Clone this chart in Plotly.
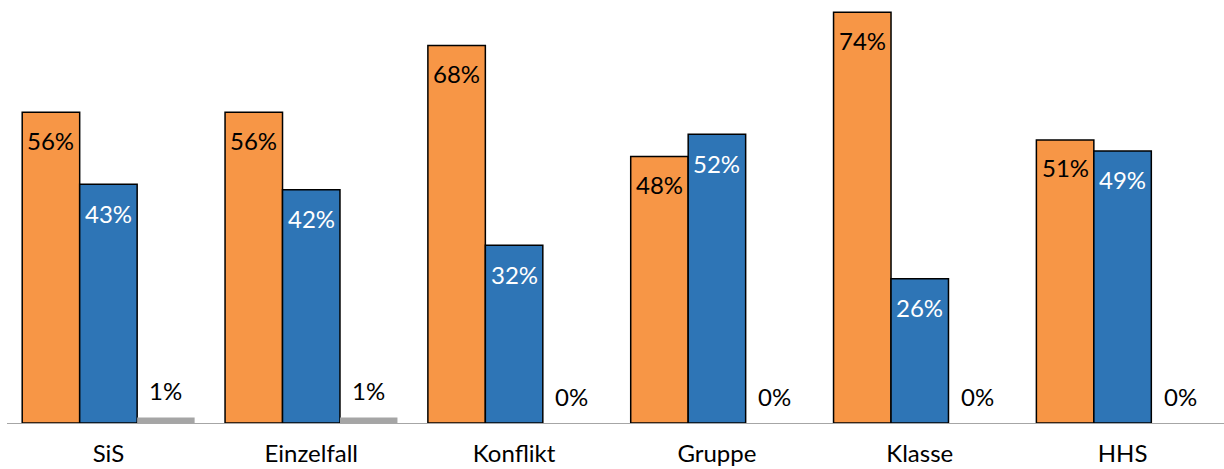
import plotly.graph_objects as go

categories = ["SiS", "Einzelfall", "Konflikt", "Gruppe", "Klasse", "HHS"]
orange_vals = [56, 56, 68, 48, 74, 51]
blue_vals = [43, 42, 32, 52, 26, 49]
gray_vals = [1, 1, 0, 0, 0, 0]

ORANGE = "#F79646"
BLUE = "#2E75B6"
GRAY = "#A5A5A5"
FONT = "Lato"
FS = 24

fig = go.Figure()
fig.add_trace(go.Bar(x=categories, y=orange_vals, marker=dict(color=ORANGE, line=dict(color="black", width=1.5)), name="A"))
fig.add_trace(go.Bar(x=categories, y=blue_vals, marker=dict(color=BLUE, line=dict(color="black", width=1.5)), name="B"))
fig.add_trace(go.Bar(x=categories, y=gray_vals, marker=dict(color=GRAY, line=dict(width=0)), name="C"))

bw = 0.85 / 3
annotations = []
for i, c in enumerate(categories):
    annotations.append(dict(x=i - bw, y=orange_vals[i], xref="x", yref="y", text=f"{orange_vals[i]}%",
                            showarrow=False, yshift=-28, yanchor="middle",
                            font=dict(family=FONT, size=FS, color="black")))
    annotations.append(dict(x=i, y=blue_vals[i], xref="x", yref="y", text=f"{blue_vals[i]}%",
                            showarrow=False, yshift=-29, yanchor="middle",
                            font=dict(family=FONT, size=FS, color="white")))
    annotations.append(dict(x=i + bw, y=gray_vals[i], xref="x", yref="y", text=f"{gray_vals[i]}%",
                            showarrow=False, yshift=27, yanchor="middle",
                            font=dict(family=FONT, size=FS, color="black")))

fig.update_layout(
    width=1224, height=469,
    margin=dict(l=7, r=0, t=0, b=46),
    barmode="group", bargap=0.15, bargroupgap=0,
    showlegend=False,
    plot_bgcolor="white", paper_bgcolor="white",
    annotations=annotations,
    font=dict(family=FONT, size=FS, color="black"),
)
fig.update_xaxes(showline=True, linecolor="#A6A6A6", linewidth=1, ticks="", showgrid=False,
                 automargin=False,
                 tickfont=dict(family=FONT, size=FS, color="black"), ticklabelstandoff=9)
fig.update_yaxes(range=[0, 76.2], visible=False, showgrid=False, automargin=False)

fig.write_html("out.html")
